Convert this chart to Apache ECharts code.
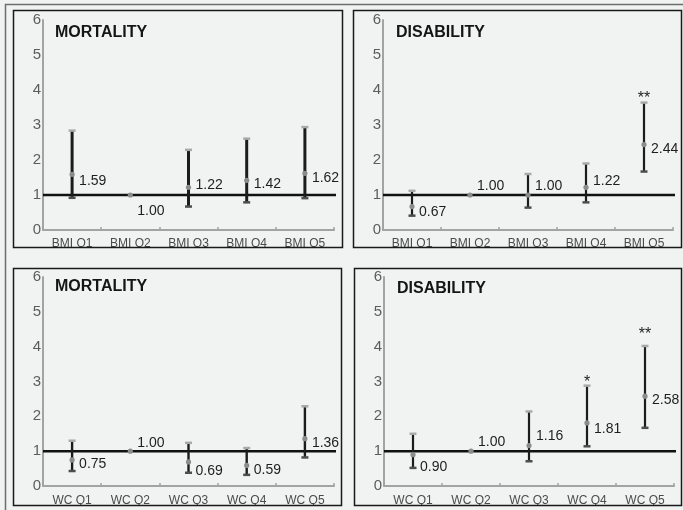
<!DOCTYPE html>
<html>
<head>
<meta charset="utf-8">
<script src="https://cdn.jsdelivr.net/npm/echarts@6/dist/echarts.min.js"></script>
<style>html,body{margin:0;padding:0;background:#f1f2f2;}#c{width:683px;height:510px;}</style>
</head>
<body>
<div id="c"></div>
<script>
// ---- data ----
var catsBMI = ['BMI Q1', 'BMI Q2', 'BMI Q3', 'BMI Q4', 'BMI Q5'];
var catsWC = ['WC Q1', 'WC Q2', 'WC Q3', 'WC Q4', 'WC Q5'];
var panelTitles = ['MORTALITY', 'DISABILITY', 'MORTALITY', 'DISABILITY'];
var yTickValues = [0, 1, 2, 3, 4, 5, 6];
var referenceValue = 1;

var bmiMortPoint = [1.59, 1.00, 1.22, 1.42, 1.62];
var bmiMortLow   = [0.92, null, 0.67, 0.79, 0.91];
var bmiMortHigh  = [2.84, null, 2.29, 2.61, 2.94];
var bmiMortSig   = ['', '', '', '', ''];

var bmiDisPoint = [0.67, 1.00, 1.00, 1.22, 2.44];
var bmiDisLow   = [0.41, null, 0.64, 0.79, 1.67];
var bmiDisHigh  = [1.12, null, 1.60, 1.90, 3.64];
var bmiDisSig   = ['', '', '', '', '**'];

var wcMortPoint = [0.75, 1.00, 0.69, 0.59, 1.36];
var wcMortLow   = [0.43, null, 0.38, 0.32, 0.82];
var wcMortHigh  = [1.30, null, 1.24, 1.09, 2.29];
var wcMortSig   = ['', '', '', '', ''];

var wcDisPoint = [0.90, 1.00, 1.16, 1.81, 2.58];
var wcDisLow   = [0.52, null, 0.71, 1.14, 1.67];
var wcDisHigh  = [1.50, null, 2.14, 2.88, 4.02];
var wcDisSig   = ['', '', '', '*', '**'];

// ---- styles / layout ----
var labelDy = [
  [7, 16, -2, 4, 5],
  [6, -9, -9, -6, 5],
  [4, -8, 9, 5, 5],
  [12, -9, -9, 6, 4]
];
var starGap = [
  [0, 0, 0, 0, 0],
  [0, 0, 0, 0, 7],
  [0, 0, 0, 0, 0],
  [0, 0, 0, 6, 14]
];
var stemWidth = [3, 2.2, 2.4, 2.2];
var xLabelMargin = [8, 8, 9, 9];
var grids = [
  {left: 43, top: 20, width: 291, height: 210},
  {left: 383, top: 20, width: 290, height: 210},
  {left: 43, top: 277, width: 291, height: 209},
  {left: 384, top: 277, width: 290, height: 209}
];
var boxes = [
  [13.5, 10.5, 329, 237],
  [353.5, 10.5, 328, 237],
  [13.5, 268.5, 328, 237],
  [354.5, 268.5, 327, 237]
];
var titlePos = [[55, 25], [396, 25], [55, 279], [397, 281]];
var FONT = '"Liberation Sans", Arial, sans-serif';

var panels = [
  {cats: catsBMI, p: bmiMortPoint, lo: bmiMortLow, hi: bmiMortHigh, sig: bmiMortSig},
  {cats: catsBMI, p: bmiDisPoint, lo: bmiDisLow, hi: bmiDisHigh, sig: bmiDisSig},
  {cats: catsWC, p: wcMortPoint, lo: wcMortLow, hi: wcMortHigh, sig: wcMortSig},
  {cats: catsWC, p: wcDisPoint, lo: wcDisLow, hi: wcDisHigh, sig: wcDisSig}
];

var xAxes = [], yAxes = [], series = [], titles = [];
panels.forEach(function (pn, i) {
  xAxes.push({
    type: 'category', gridIndex: i, data: pn.cats, boundaryGap: true,
    axisLine: {lineStyle: {color: '#a3a3a3', width: 2}},
    axisTick: {show: true, inside: true, length: 3, lineStyle: {color: '#a3a3a3', width: 1.5}},
    axisLabel: {color: '#4a4a4a', fontSize: 12, fontFamily: FONT, margin: xLabelMargin[i]},
    splitLine: {show: false}
  });
  xAxes.push({
    type: 'value', gridIndex: i, min: 0, max: 5, show: false
  });
  yAxes.push({
    type: 'value', gridIndex: i, min: yTickValues[0], max: yTickValues[yTickValues.length - 1], interval: 1,
    axisLine: {show: true, lineStyle: {color: '#a3a3a3', width: 2}},
    axisTick: {show: false},
    splitLine: {show: false},
    axisLabel: {color: '#5c5c5c', fontSize: 15, fontFamily: FONT, margin: 2, padding: [6, 0, 0, 0]}
  });
  titles.push({
    text: panelTitles[i], left: titlePos[i][0], top: titlePos[i][1], padding: 0,
    textStyle: {fontSize: 16, fontWeight: 'bold', color: '#151515', fontFamily: FONT}
  });
  // reference line at 1, running to the panel border
  series.push({
    type: 'line', xAxisIndex: 2 * i + 1, yAxisIndex: i, clip: false, silent: true,
    symbol: 'none', data: [[0, referenceValue], [5.15, referenceValue]],
    lineStyle: {color: '#111', width: 2.5}, z: 2
  });
  var data = pn.p.map(function (v, k) {
    return [k, v, pn.lo[k], pn.hi[k]];
  });
  series.push({
    type: 'custom', xAxisIndex: 2 * i, yAxisIndex: i, clip: false, z: 5,
    data: data,
    renderItem: function (params, api) {
      var k = api.value(0);
      var v = api.value(1);
      var pt = api.coord([k, v]);
      var children = [];
      var lo = pn.lo[k], hi = pn.hi[k];
      var hiPt = null;
      if (lo != null && hi != null) {
        var loPt = api.coord([k, lo]);
        hiPt = api.coord([k, hi]);
        children.push({type: 'line', shape: {x1: pt[0], y1: loPt[1], x2: pt[0], y2: hiPt[1]},
          style: {stroke: '#1c1c1c', lineWidth: stemWidth[i]}});
        children.push({type: 'line', shape: {x1: pt[0] - 3.5, y1: hiPt[1], x2: pt[0] + 3.5, y2: hiPt[1]},
          style: {stroke: '#a9a9a9', lineWidth: 2.5}});
        children.push({type: 'line', shape: {x1: pt[0] - 3.5, y1: loPt[1], x2: pt[0] + 3.5, y2: loPt[1]},
          style: {stroke: '#4d4d4d', lineWidth: 2.5}});
      }
      children.push({type: 'circle', shape: {cx: pt[0], cy: pt[1], r: 2.6},
        style: {fill: '#8c8c8c'}});
      children.push({type: 'text', x: pt[0] + 7, y: pt[1] + labelDy[i][k],
        style: {text: v.toFixed(2), fill: '#1e1e1e', fontSize: 14, fontFamily: FONT,
          verticalAlign: 'middle', align: 'left'}});
      if (pn.sig[k] && hiPt) {
        children.push({type: 'text', x: pt[0], y: hiPt[1] - starGap[i][k] + 3,
          style: {text: pn.sig[k], fill: '#1e1e1e', fontSize: 16, fontFamily: FONT,
            verticalAlign: 'middle', align: 'center'}});
      }
      return {type: 'group', children: children};
    }
  });
});

var graphics = [
  {type: 'rect', z: 100, silent: true, shape: {x: 6, y: 248, width: 680, height: 20}, style: {fill: '#f1f2f2'}},
  {type: 'rect', z: 100, silent: true, shape: {x: 6, y: 506, width: 680, height: 6}, style: {fill: '#f1f2f2'}},
  {type: 'rect', z: 101, silent: true, shape: {x: 5.5, y: 4.5, width: 700, height: 600}, style: {fill: 'none', stroke: '#6e6e6e', lineWidth: 1.5}}
];
boxes.forEach(function (b) {
  graphics.push({type: 'rect', z: 102, silent: true, shape: {x: b[0], y: b[1], width: b[2], height: b[3]},
    style: {fill: 'none', stroke: '#1a1a1a', lineWidth: 1.5}});
});

var chart = echarts.init(document.getElementById('c'));
chart.setOption({
  backgroundColor: '#f1f2f2',
  animation: false,
  title: titles,
  grid: grids,
  xAxis: xAxes,
  yAxis: yAxes,
  series: series,
  graphic: graphics
});
</script>
</body>
</html>
